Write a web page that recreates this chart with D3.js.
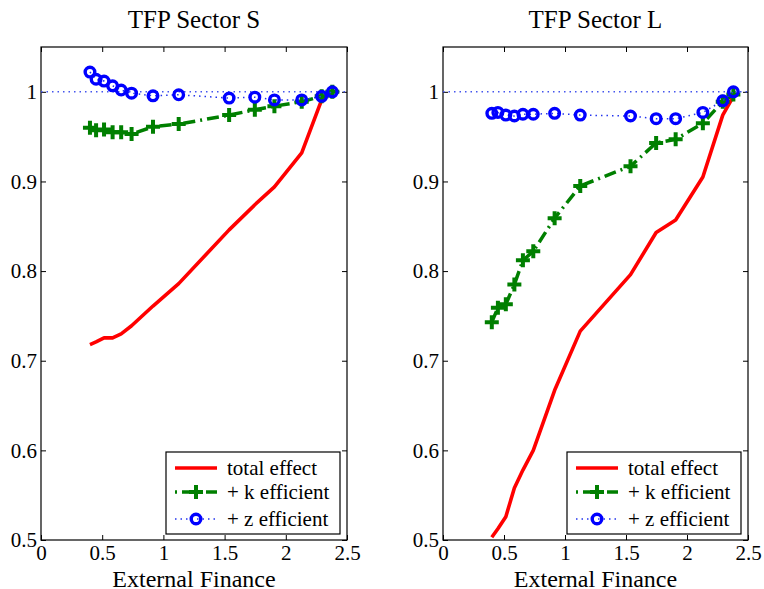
<!DOCTYPE html>
<html><head><meta charset="utf-8">
<script src="https://cdn.jsdelivr.net/npm/d3@7"></script>
</head><body style="margin:0"><svg id="c" width="764" height="589"></svg>
<script>
const xVals = [0.40, 0.45, 0.515, 0.585, 0.655, 0.74, 0.915, 1.125, 1.537, 1.747, 1.907, 2.13, 2.293, 2.38];
const sTotal = [0.718, 0.721, 0.7255, 0.7255, 0.730, 0.739, 0.761, 0.786, 0.846, 0.874, 0.894, 0.932, 0.991, 1.0];
const sK = [0.960, 0.957, 0.958, 0.955, 0.955, 0.953, 0.961, 0.964, 0.974, 0.980, 0.984, 0.989, 0.995, 1.0];
const sZ = [1.022, 1.014, 1.012, 1.0067, 1.002, 0.9985, 0.9955, 0.9967, 0.993, 0.994, 0.991, 0.991, 0.995, 1.0];
const lTotal = [0.503, 0.5125, 0.526, 0.558, 0.578, 0.600, 0.667, 0.733, 0.796, 0.843, 0.857, 0.905, 0.974, 0.995];
const lK = [0.743, 0.759, 0.763, 0.785, 0.812, 0.822, 0.859, 0.895, 0.917, 0.943, 0.947, 0.965, 0.989, 0.997];
const lZ = [0.976, 0.977, 0.974, 0.973, 0.975, 0.975, 0.976, 0.974, 0.973, 0.970, 0.970, 0.977, 0.990, 1.0];
const xTicks = [0, 0.5, 1, 1.5, 2, 2.5];
const yTicks = [0.5, 0.6, 0.7, 0.8, 0.9, 1];
const titles = ["TFP Sector S", "TFP Sector L"];
const xLabel = "External Finance";
const legendLabels = ["total effect", "+ k efficient", "+ z efficient"];
const refLevel = 1;

(function () {
const FONT = "Liberation Serif";
const svg = d3.select("#c");
const panels = [
  {left: 41, right: 347, title: titles[0], total: sTotal, k: sK, z: sZ},
  {left: 443, right: 748, title: titles[1], total: lTotal, k: lK, z: lZ}
];
const pTop = 47, pBottom = 540;
const yFmt = d => d === 1 ? "1" : d3.format(".1f")(d);
const xFmt = d => String(d);

panels.forEach(p => {
  const x = d3.scaleLinear().domain([0, 2.5]).range([p.left, p.right]);
  const y = d3.scaleLinear().domain([0.5, 1.05]).range([pBottom, pTop]);
  const clipId = "clip" + p.left;
  svg.append("clipPath").attr("id", clipId).append("rect")
    .attr("x", p.left).attr("y", pTop).attr("width", p.right - p.left).attr("height", pBottom - pTop);

  const ax = [
    svg.append("g").attr("transform", `translate(0,${pBottom})`).call(d3.axisBottom(x).tickValues(xTicks).tickSizeInner(-5).tickSizeOuter(0).tickPadding(5).tickFormat(xFmt)),
    svg.append("g").attr("transform", `translate(0,${pTop})`).call(d3.axisTop(x).tickValues(xTicks).tickSizeInner(-5).tickSizeOuter(0).tickFormat("")),
    svg.append("g").attr("transform", `translate(${p.left},0)`).call(d3.axisLeft(y).tickValues(yTicks).tickSizeInner(-5).tickSizeOuter(0).tickPadding(4).tickFormat(yFmt)),
    svg.append("g").attr("transform", `translate(${p.right},0)`).call(d3.axisRight(y).tickValues(yTicks).tickSizeInner(-5).tickSizeOuter(0).tickFormat(""))
  ];
  ax.forEach(a => {
    a.attr("font-family", null).attr("font-size", null);
    a.select(".domain").remove();
    a.selectAll("line").attr("stroke", "#000").attr("stroke-width", 1);
    a.selectAll("text").attr("fill", "#000").style("font-family", FONT).style("font-size", "21px");
  });
  svg.append("rect").attr("x", p.left).attr("y", pTop).attr("width", p.right - p.left).attr("height", pBottom - pTop)
    .attr("fill", "none").attr("stroke", "#000").attr("stroke-width", 1.2);

  const plot = svg.append("g").attr("clip-path", `url(#${clipId})`);
  plot.append("line").attr("x1", x(0)).attr("x2", x(2.5)).attr("y1", y(refLevel)).attr("y2", y(refLevel))
    .attr("stroke", "#4455ee").attr("stroke-width", 1.5).attr("stroke-dasharray", "1.5,4");

  const line = arr => d3.line().x((d, i) => x(xVals[i])).y(d => y(d))(arr);
  plot.append("path").attr("d", line(p.total)).attr("fill", "none").attr("stroke", "#ff0000").attr("stroke-width", 3.6).attr("stroke-linejoin", "round");
  plot.append("path").attr("d", line(p.k)).attr("fill", "none").attr("stroke", "#007f00").attr("stroke-width", 3.5).attr("stroke-dasharray", "12,5,2,5");
  plot.selectAll(".kp").data(p.k).enter().append("path")
    .attr("d", (d, i) => `M${x(xVals[i]) - 7},${y(d)}h14M${x(xVals[i])},${y(d) - 7}v14`)
    .attr("stroke", "#007f00").attr("stroke-width", 4).attr("fill", "none");
  plot.append("path").attr("d", line(p.z)).attr("fill", "none").attr("stroke", "#2233ee").attr("stroke-width", 1.5).attr("stroke-dasharray", "1.5,4");
  plot.selectAll(".zc").data(p.z).enter().append("circle")
    .attr("cx", (d, i) => x(xVals[i])).attr("cy", d => y(d)).attr("r", 4.8)
    .attr("fill", "none").attr("stroke", "#0000ff").attr("stroke-width", 3.4);

  svg.append("text").attr("x", (p.left + p.right) / 2).attr("y", 28).attr("text-anchor", "middle")
    .attr("font-family", FONT).attr("font-size", 25).text(p.title);
  svg.append("text").attr("x", (p.left + p.right) / 2).attr("y", 587).attr("text-anchor", "middle")
    .attr("font-family", FONT).attr("font-size", 24).text(xLabel);

  const lx = p.right - 174 - 7, ly = 452;
  svg.append("rect").attr("x", lx).attr("y", ly).attr("width", 174).attr("height", 82)
    .attr("fill", "#fff").attr("stroke", "#000").attr("stroke-width", 1.2);
  const rows = [ly + 16, ly + 40, ly + 67];
  const sx0 = lx + 9, sx1 = lx + 51;
  svg.append("line").attr("x1", sx0).attr("x2", sx1).attr("y1", rows[0]).attr("y2", rows[0]).attr("stroke", "#ff0000").attr("stroke-width", 3.6);
  svg.append("line").attr("x1", sx0).attr("x2", sx1).attr("y1", rows[1]).attr("y2", rows[1]).attr("stroke", "#007f00").attr("stroke-width", 3.5).attr("stroke-dasharray", "2,5,12,5");
  svg.append("path").attr("d", `M${(sx0 + sx1) / 2 - 7},${rows[1]}h14M${(sx0 + sx1) / 2},${rows[1] - 7}v14`).attr("stroke", "#007f00").attr("stroke-width", 4);
  svg.append("line").attr("x1", sx0).attr("x2", sx1).attr("y1", rows[2]).attr("y2", rows[2]).attr("stroke", "#2233ee").attr("stroke-width", 1.5).attr("stroke-dasharray", "1.5,4");
  svg.append("circle").attr("cx", (sx0 + sx1) / 2).attr("cy", rows[2]).attr("r", 4.8).attr("fill", "none").attr("stroke", "#0000ff").attr("stroke-width", 3.4);
  legendLabels.forEach((t, i) => {
    svg.append("text").attr("x", lx + 61).attr("y", rows[i] + 7).attr("font-family", FONT).attr("font-size", 21).text(t);
  });
});
})();
</script></body></html>
